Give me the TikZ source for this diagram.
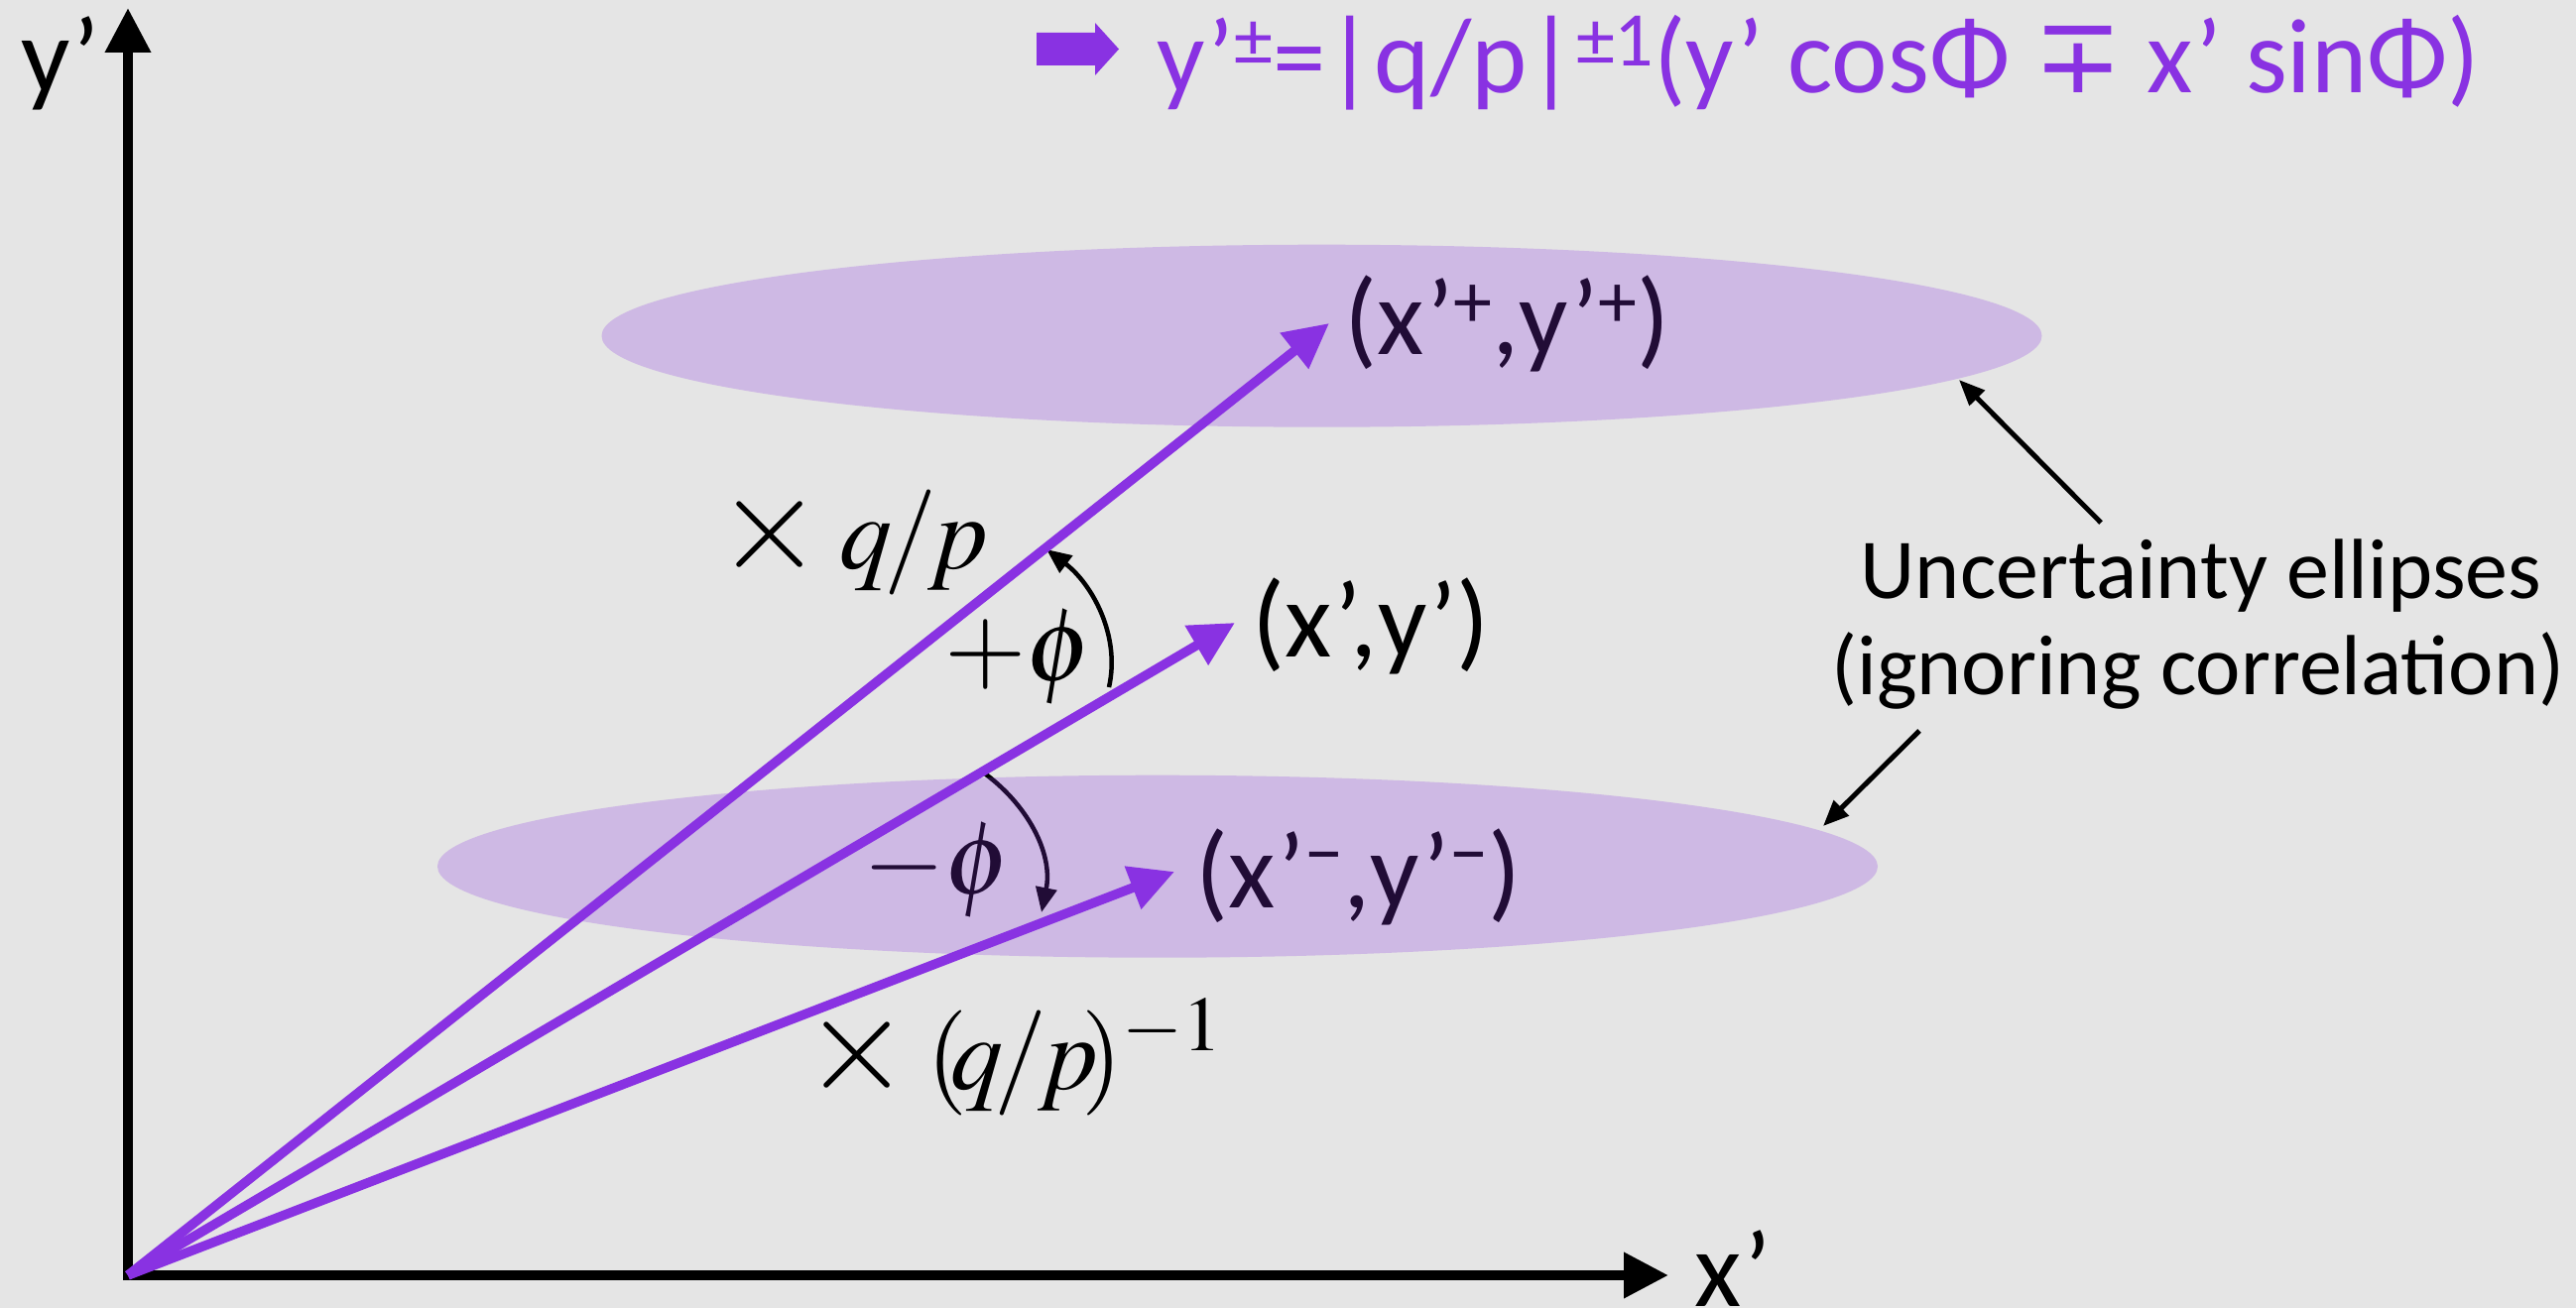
\documentclass[tikz,border=0pt]{standalone}
\usepackage{graphicx}
\usepackage{mathptmx}
\usepackage[no-math]{fontspec}
\setmainfont{Carlito}
\newfontfamily\djv{DejaVu Sans}
\usetikzlibrary{arrows.meta,shapes.geometric}
\definecolor{vio}{RGB}{137,50,226}
\definecolor{bgc}{RGB}{229,229,229}
\newcommand\mysup[2][27pt]{\raisebox{#1}{\fontsize{78}{80}\selectfont #2}}
\newcommand\bigtimes{\scalebox{1.3}{$\times$}}
\newcommand\qp{q\mkern-1.5mu/\mkern-1.5mu p}
\tikzset{
 axis/.style={line width=10pt, black, line join=miter, {Triangle[length=45pt,width=44pt]}-{Triangle[length=45pt,width=44pt]}},
 vec/.style={line width=9.5pt, vio, -{Triangle[length=45pt,width=44pt]}},
 ptr/.style={line width=5pt, black, -{Triangle[length=26pt,width=21pt]}},
 arcarrow/.style={line width=4.5pt, black, -{Triangle[length=25pt,width=21pt]}},
 glabel/.style={inner sep=0pt, anchor=base west, font=\fontsize{109}{120}\selectfont},
 tlabel/.style={inner sep=0pt, anchor=base west, font=\fontsize{107}{115}\selectfont, text=vio},
 ulabel/.style={inner sep=0pt, anchor=base, font=\fontsize{86}{97}\selectfont},
 mlabel/.style={inner sep=0pt, anchor=base west, font=\fontsize{106}{115}\selectfont},
 ell/.style={ellipse, fill=vio, fill opacity=0.245, minimum width=1452pt, minimum height=184pt, inner sep=0pt, draw=none},
}
\begin{document}
\begin{tikzpicture}[x=1pt,y=-1pt]
\fill[bgc] (0,0) rectangle (2597,1319);
\useasboundingbox (0,0) rectangle (2597,1319);
% axes
\coordinate (O) at (129,1286);
\coordinate (Yt) at (129,8);
\coordinate (Xt) at (1682,1286);
\draw[axis] (Yt) -- (O) -- (Xt);
\node[glabel] (ylab) at (21,94) {y’};
\node[glabel] (xlab) at (1708,1317) {x’};
% title
\fill[vio] (1045,33) -- (1104,33) -- (1104,23) -- (1128,49.5) -- (1104,76) -- (1104,66) -- (1045,66) -- cycle;
\node[tlabel] (title) at (1166,94) {y’\mysup{±}=|q/p|\mysup{±1}(y’ cosΦ {\djv ∓} x’ sinΦ)};
% point labels
\node[glabel] (lp) at (1355,357) {(x’\mysup{+},y’\mysup{+})};
\node[glabel] (l0) at (1262,662) {(x’,y’)};
\node[glabel] (lm) at (1205,915) {(x’\mysup[29pt]{−},y’\mysup[29pt]{−})};
% math labels
\node[mlabel] (mqp) at (722,573) {\bigtimes\,$\qp$};
\node[mlabel] (pphi) at (952,686) {$+\phi$};
\node[mlabel] (mphi) at (870,901) {$-\phi$};
\node[mlabel] (mqpinv) at (810,1098) {\bigtimes\,$(\mkern-3mu\qp\mkern-3mu)^{-1}$};
% angle arcs
\coordinate (a1s) at (1118,693);
\coordinate (a1e) at (1055,554);
\draw[arcarrow] (a1s) .. controls (1130,640) and (1100,588) .. (a1e);
\coordinate (a2s) at (990,778);
\coordinate (a2e) at (1050,920);
\draw[arcarrow] (a2s) .. controls (1035,810) and (1062,860) .. (a2e);
% uncertainty note
\node[ulabel] (unc1) at (2219,603) {Uncertainty ellipses};
\node[ulabel] (unc2) at (2216,700) {(ignoring correlation)};
\coordinate (pUs) at (2118,527);
\coordinate (pUe) at (1975,383);
\coordinate (pLs) at (1935,737);
\coordinate (pLe) at (1838,833);
\draw[ptr] (pUs) -- (pUe);
\draw[ptr] (pLs) -- (pLe);
% ellipses
\node[ell] (eU) at (1332.5,338.7) {};
\node[ell] (eL) at (1167,873.7) {};
% vectors
\coordinate (tp) at (1340,326);
\coordinate (t0) at (1245,628);
\coordinate (tm) at (1184,879);
\draw[vec] (O) -- (tp);
\draw[vec] (O) -- (t0);
\draw[vec] (O) -- (tm);
\end{tikzpicture}
\end{document}
